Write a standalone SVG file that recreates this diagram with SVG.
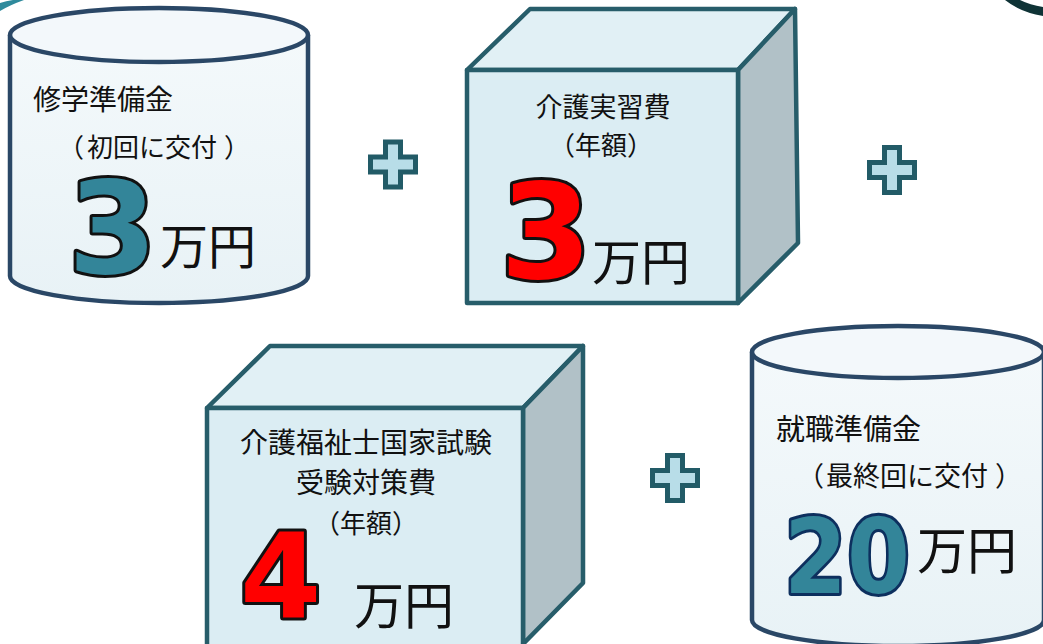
<svg xmlns="http://www.w3.org/2000/svg" width="1043" height="644" viewBox="0 0 1043 644">
<defs>
<linearGradient id="cylg" x1="0" y1="0" x2="0" y2="1">
<stop offset="0" stop-color="#f4f9fb"/>
<stop offset="1" stop-color="#e8f2f6"/>
</linearGradient>
<path id="plus" d="M-7.5,-22.5 H7.5 V-7.5 H22.5 V7.5 H7.5 V22.5 H-7.5 V7.5 H-22.5 V-7.5 H-7.5 Z"/>
</defs>
<style>
.cyl{fill:url(#cylg);stroke:#2a4766;stroke-width:4.5}
.cyltop{fill:#f3f8fb;stroke:#2a4766;stroke-width:4.5}
.front{fill:#dbedf3;stroke:#275d6a;stroke-width:4.5;stroke-linejoin:round}
.top{fill:#e1f0f5;stroke:#275d6a;stroke-width:4.5;stroke-linejoin:round}
.side{fill:#b1c1c7;stroke:#275d6a;stroke-width:4.5;stroke-linejoin:round}
.plus{fill:#b8dde8;stroke:#225b67;stroke-width:5}
.t{font-family:"Noto Sans CJK JP","Noto Sans CJK SC",sans-serif;fill:#111}
.big{font-family:"DejaVu Sans","Liberation Sans",sans-serif;font-weight:bold;stroke:#111;stroke-width:6;paint-order:stroke;stroke-linejoin:round}
</style>
<rect width="1043" height="644" fill="#ffffff"/>
<path d="M0,3 L0,11 Q10,5 24,0 L13,0 Q6,1 0,3 Z" fill="#2f8a9c"/>
<path d="M1005,0 L1020,0 Q1030,5 1043,7 L1043,16 Q1020,12 1005,0 Z" fill="#0f3336"/>

<g id="node-shugaku">
<path class="cyl" d="M10,35 L10,276 A149,27 0 0 0 308,276 L308,35"/>
<ellipse class="cyltop" cx="159" cy="35" rx="149" ry="27"/>
<text class="t" x="33" y="110" font-size="28">修学準備金</text>
<text class="t" x="58" y="157" font-size="26">（<tspan dx="3">初回に交付</tspan><tspan dx="7">）</tspan></text>
<text class="big" x="68" y="273" font-size="128" fill="#338599">3</text>
<text class="t" x="160" y="264" font-size="48">万円</text>
</g>

<g id="node-jisshu">
<polygon class="top" points="467,70 530,9 795,9 738,70"/>
<polygon class="side" points="738,70 795,9 798,243 738,303"/>
<rect class="front" x="467" y="70" width="271" height="233"/>
<text class="t" x="603" y="117" font-size="27" text-anchor="middle">介護実習費</text>
<text class="t" x="601" y="155" font-size="26" text-anchor="middle">（年額）</text>
<text class="big" x="500" y="278" font-size="132" fill="#ff0000">3</text>
<text class="t" x="592" y="280" font-size="49">万円</text>
</g>

<g id="node-shiken">
<polygon class="top" points="207,408 270,346 583,346 523,408"/>
<polygon class="side" points="523,408 583,346 583,583 523,644"/>
<rect class="front" x="207" y="408" width="316" height="240"/>
<text class="t" x="366" y="453" font-size="28" text-anchor="middle">介護福祉士国家試験</text>
<text class="t" x="366" y="493" font-size="28" text-anchor="middle">受験対策費</text>
<text class="t" x="366" y="533" font-size="26" text-anchor="middle">（年額）</text>
<text class="big" x="240" y="618" font-size="117" fill="#ff0000">4</text>
<text class="t" x="354" y="624" font-size="50">万円</text>
</g>

<g id="node-shushoku">
<path class="cyl" d="M752,352 L752,620 A146,26 0 0 0 1044,620 L1044,352"/>
<ellipse class="cyltop" cx="898" cy="352" rx="146" ry="26"/>
<text class="t" x="776" y="440" font-size="29">就職準備金</text>
<text class="t" x="797" y="486" font-size="27">（<tspan dx="2">最終回に交付</tspan><tspan dx="7">）</tspan></text>
<text class="big" x="784" y="593" font-size="104" fill="#338599" style="stroke:#0d2f5e" textLength="126" lengthAdjust="spacingAndGlyphs">20</text>
<text class="t" x="917" y="569" font-size="50">万円</text>
</g>

<g id="connectors">
<use href="#plus" class="plus" transform="translate(393,164.5)"/>
<use href="#plus" class="plus" transform="translate(892,170)"/>
<use href="#plus" class="plus" transform="translate(675,478)"/>
</g>
</svg>
